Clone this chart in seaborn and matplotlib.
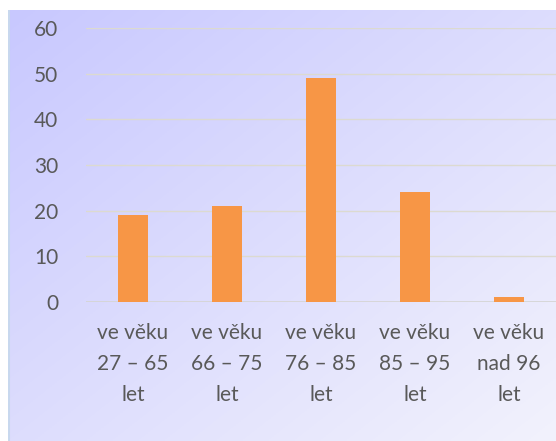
import numpy as np
import pandas as pd
import matplotlib
matplotlib.use('Agg')
import matplotlib.pyplot as plt
import seaborn as sns

# Data
categories = ['ve věku\n27 – 65\nlet', 've věku\n66 – 75\nlet', 've věku\n76 – 85\nlet',
              've věku\n85 – 95\nlet', 've věku\nnad 96\nlet']
values = [19, 21, 49, 24, 1]

df = pd.DataFrame({'kategorie': categories, 'pocet': values})

sns.set_theme(style='white')
plt.rcParams['font.family'] = ['Lato', 'DejaVu Sans']

fig = plt.figure(figsize=(5.56, 4.41), dpi=100)

# gradient background of the chart area
bg = fig.add_axes([8 / 556, 0, 1 - 8 / 556, 431 / 441])
c0 = np.array([200, 200, 255]) / 255
c1 = np.array([242, 242, 252]) / 255
xx, yy = np.meshgrid(np.linspace(0, 1, 200), np.linspace(0, 1, 200))
t = (xx + yy) / 2
grad = c0 + (c1 - c0) * t[..., None]
bg.imshow(grad, aspect='auto', extent=[0, 1, 0, 1], origin='upper')
bg.set_axis_off()
bg.plot([0.001, 0.001], [0, 1], color='#c8d8ee', lw=1.5, transform=bg.transAxes)

ax = fig.add_axes([86 / 556, 1 - 302 / 441, 1 - 86 / 556, 274 / 441])
ax.set_facecolor('none')
sns.barplot(data=df, x='kategorie', y='pocet', color='#F79646', width=0.32,
            saturation=1, edgecolor='none', linewidth=0, ax=ax)

ax.set_ylim(0, 60)
ax.set_yticks(range(0, 61, 10))
ax.set_xlim(-0.5, 4.5)
ax.yaxis.grid(True, color='#dcdad0', lw=1)
ax.set_axisbelow(True)
for s in ax.spines.values():
    s.set_visible(False)
ax.axhline(0, color='#d4d4d4', lw=1.2, zorder=0.5)
ax.set_xlabel('')
ax.set_ylabel('')
ax.tick_params(axis='y', length=0, pad=20, labelsize=15, labelcolor='#595959')
ax.tick_params(axis='x', length=0, pad=15, labelsize=15, labelcolor='#595959')
for lbl in ax.get_xticklabels():
    lbl.set_linespacing(1.7)

fig.savefig('out.png', dpi=100)
